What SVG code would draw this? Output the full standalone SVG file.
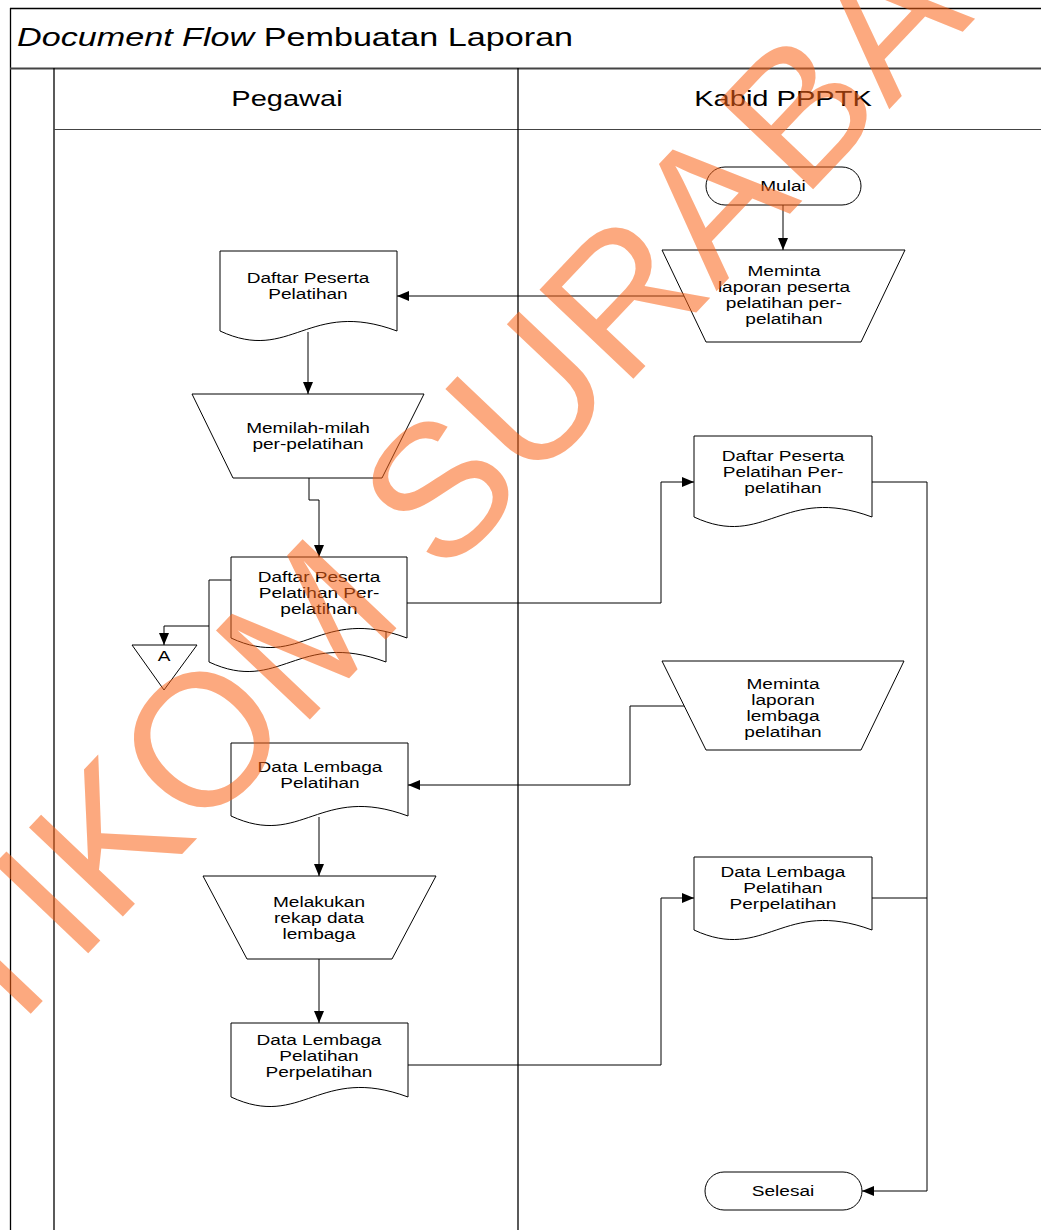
<svg xmlns="http://www.w3.org/2000/svg" width="1041" height="1230" viewBox="0 0 1041 1230">
<defs>
<marker id="arr" markerUnits="userSpaceOnUse" markerWidth="12" markerHeight="10" refX="12" refY="5" orient="auto">
<path d="M0,0 L12,5 L0,10 Z" fill="#000"/>
</marker>
<style>
.frame{fill:none;stroke:#000;stroke-width:1.3}
.sh{fill:#fff;stroke:#000;stroke-width:1}
.cn{fill:none;stroke:#000;stroke-width:1}
.ca{fill:none;stroke:#000;stroke-width:1;marker-end:url(#arr)}
.lbl{font-family:"Liberation Sans",Arial,sans-serif;font-size:14px;fill:#000;text-anchor:middle}
.hdr{font-family:"Liberation Sans",Arial,sans-serif;font-size:22px;fill:#000;text-anchor:middle}
.ttl{font-family:"Liberation Sans",Arial,sans-serif;font-size:25.5px;fill:#000}
.wm{font-family:"Liberation Sans",Arial,sans-serif;font-size:188px;fill:#FA6316;fill-opacity:0.55}
</style>
</defs>
<rect x="0" y="0" width="1041" height="1230" fill="#fff"/>

<g id="frame">
<line class="frame" x1="10" y1="8.5" x2="1041" y2="8.5"/>
<line class="frame" x1="10.5" y1="8" x2="10.5" y2="1230"/>
<line x1="10" y1="68.5" x2="1041" y2="68.5" stroke="#444" stroke-width="2"/>
<line class="frame" x1="54" y1="68" x2="54" y2="1230"/>
<line x1="54" y1="129.5" x2="1041" y2="129.5" stroke="#444" stroke-width="1.2"/>
<line class="frame" x1="518" y1="68" x2="518" y2="1230"/>
<text class="ttl" transform="matrix(1.34 0 0 1 17 0)" x="0" y="46"><tspan font-style="italic">Document Flow</tspan> Pembuatan Laporan</text>
<text class="hdr" transform="matrix(1.32 0 0 1 287 0)" x="0" y="106">Pegawai</text>
<text class="hdr" transform="matrix(1.32 0 0 1 783 0)" x="0" y="106">Kabid PPPTK</text>
</g>

<g id="connectors">
<path class="ca" d="M783,205 V250"/>
<path class="ca" d="M684,296 H397"/>
<path class="ca" d="M308,332 V394"/>
<path class="ca" d="M309,478 V500 H319 V557"/>
<path class="ca" d="M209,626 H164 V645"/>
<path class="ca" d="M407,603 H661 V482 H694"/>
<path class="ca" d="M872,482 H927 V1191 H862"/>
<path class="cn" d="M872,898 H927"/>
<path class="ca" d="M684,706 H630 V785 H408"/>
<path class="ca" d="M319,817 V876"/>
<path class="ca" d="M319,959 V1023"/>
<path class="ca" d="M408,1065 H661 V898 H694"/>
</g>

<g id="mulai">
<rect class="sh" x="706" y="167" width="155" height="38" rx="19" ry="19"/>
<text class="lbl" transform="matrix(1.36 0 0 1 783 0)" x="0" y="191">Mulai</text>
</g>

<g id="meminta-laporan-peserta">
<path class="sh" d="M662,250 H905 L861,342 H706 Z"/>
<text class="lbl" transform="matrix(1.36 0 0 1 784 0)"><tspan x="0" y="276">Meminta</tspan><tspan x="0" y="292">laporan peserta</tspan><tspan x="0" y="308">pelatihan per-</tspan><tspan x="0" y="324">pelatihan</tspan></text>
</g>

<g id="daftar-peserta-pelatihan">
<path class="sh" d="M220,251 H397 V331 C308.5,298 290.8,364 220,331 Z"/>
<text class="lbl" transform="matrix(1.36 0 0 1 308 0)"><tspan x="0" y="283">Daftar Peserta</tspan><tspan x="0" y="299">Pelatihan</tspan></text>
</g>

<g id="memilah">
<path class="sh" d="M192,394 H424 L382,478 H233 Z"/>
<text class="lbl" transform="matrix(1.36 0 0 1 308 0)"><tspan x="0" y="433">Memilah-milah</tspan><tspan x="0" y="449">per-pelatihan</tspan></text>
</g>

<g id="daftar-peserta-per-pelatihan-stack">
<path class="sh" d="M209,580 H386 V662 C297.5,629 279.8,695 209,662 Z"/>
<path class="sh" d="M231,557 H407 V638 C319,605 301.4,671 231,638 Z"/>
<text class="lbl" transform="matrix(1.36 0 0 1 319 0)"><tspan x="0" y="582">Daftar Peserta</tspan><tspan x="0" y="598">Pelatihan Per-</tspan><tspan x="0" y="614">pelatihan</tspan></text>
</g>

<g id="offpage-a">
<path class="sh" d="M132,645 H197 L164,690 Z"/>
<text class="lbl" transform="matrix(1.36 0 0 1 164 0)" x="0" y="661">A</text>
</g>

<g id="daftar-peserta-per-pelatihan-kabid">
<path class="sh" d="M694,436 H872 V517 C783,484 765.2,550 694,517 Z"/>
<text class="lbl" transform="matrix(1.36 0 0 1 783 0)"><tspan x="0" y="461">Daftar Peserta</tspan><tspan x="0" y="477">Pelatihan Per-</tspan><tspan x="0" y="493">pelatihan</tspan></text>
</g>

<g id="meminta-laporan-lembaga">
<path class="sh" d="M662,661 H904 L861,750 H706 Z"/>
<text class="lbl" transform="matrix(1.36 0 0 1 783 0)"><tspan x="0" y="689">Meminta</tspan><tspan x="0" y="705">laporan</tspan><tspan x="0" y="721">lembaga</tspan><tspan x="0" y="737">pelatihan</tspan></text>
</g>

<g id="data-lembaga-pelatihan">
<path class="sh" d="M231,743 H408 V816 C319.5,783 301.8,849 231,816 Z"/>
<text class="lbl" transform="matrix(1.36 0 0 1 320 0)"><tspan x="0" y="772">Data Lembaga</tspan><tspan x="0" y="788">Pelatihan</tspan></text>
</g>

<g id="melakukan-rekap">
<path class="sh" d="M203,876 H436 L392,959 H247 Z"/>
<text class="lbl" transform="matrix(1.36 0 0 1 319 0)"><tspan x="0" y="907">Melakukan</tspan><tspan x="0" y="923">rekap data</tspan><tspan x="0" y="939">lembaga</tspan></text>
</g>

<g id="data-lembaga-perpelatihan-pegawai">
<path class="sh" d="M231,1023 H408 V1097 C319.5,1064 301.8,1130 231,1097 Z"/>
<text class="lbl" transform="matrix(1.36 0 0 1 319 0)"><tspan x="0" y="1045">Data Lembaga</tspan><tspan x="0" y="1061">Pelatihan</tspan><tspan x="0" y="1077">Perpelatihan</tspan></text>
</g>

<g id="data-lembaga-perpelatihan-kabid">
<path class="sh" d="M694,857 H872 V930 C783,897 765.2,963 694,930 Z"/>
<text class="lbl" transform="matrix(1.36 0 0 1 783 0)"><tspan x="0" y="877">Data Lembaga</tspan><tspan x="0" y="893">Pelatihan</tspan><tspan x="0" y="909">Perpelatihan</tspan></text>
</g>

<g id="selesai">
<rect class="sh" x="705" y="1172" width="157" height="38" rx="19" ry="19"/>
<text class="lbl" transform="matrix(1.36 0 0 1 783 0)" x="0" y="1196">Selesai</text>
</g>

<g id="watermark">
<text class="wm" transform="translate(-89,1140) rotate(-46.5)" x="0" y="0">STIKOM SURABAYA</text>
</g>
</svg>
